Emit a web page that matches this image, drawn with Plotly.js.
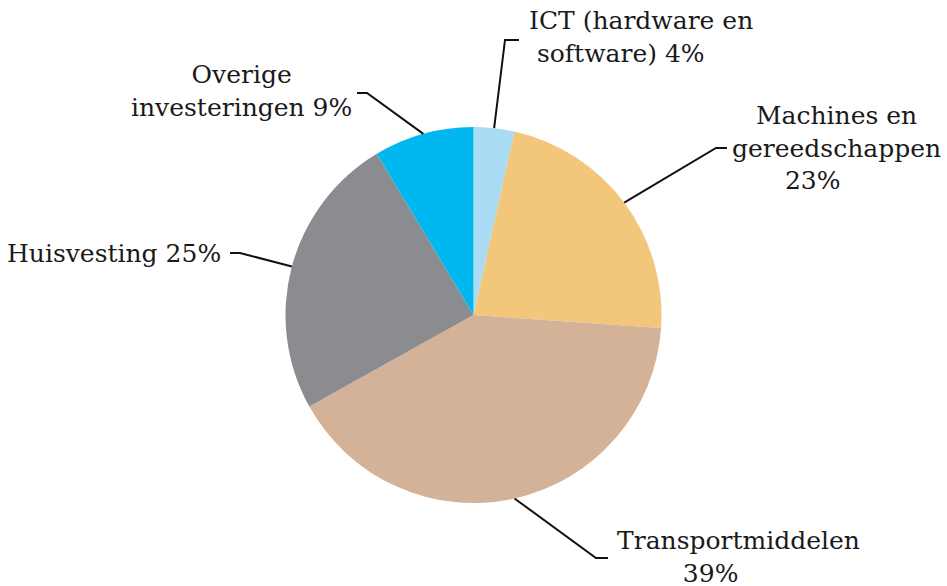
<!DOCTYPE html>
<html>
<head>
<meta charset="utf-8">
<script src="https://cdn.plot.ly/plotly-3.0.1.min.js"></script>
<style>html,body{margin:0;padding:0;background:#fff;}#chart{width:947px;height:586px;}</style>
</head>
<body>
<div id="chart"></div>
<script>
// Data: slice shares as drawn, and the percentages printed in the labels
var categories = ['ICT (hardware en software)', 'Machines en gereedschappen', 'Transportmiddelen', 'Huisvesting', 'Overige investeringen'];
var values = [3.5, 22.6, 40.8, 24.5, 8.6];
var labelPercents = [4, 23, 39, 25, 9];
var colors = ['#a9dcf4', '#f2c77c', '#d3b297', '#8b8c90', '#00b7ef'];
var nb = '\u00a0';
var displayLabels = [
  'ICT (hardware en<br>' + nb + 'software) ' + labelPercents[0] + '%',
  'Machines en<br>gereedschappen<br>' + labelPercents[1] + '%' + nb.repeat(6),
  'Transportmiddelen<br>' + labelPercents[2] + '%' + nb.repeat(7),
  'Huisvesting ' + labelPercents[3] + '%',
  'Overige<br>investeringen ' + labelPercents[4] + '%'
];

var W = 947, H = 586;
var cx = 473.5, cy = 315, R = 188;
function px(x){ return x / W; }
function py(y){ return 1 - y / H; }

// label layout (pixel positions of elbow, end of horizontal tick, and text anchor)
var labelLayout = [
  {elbow:[505,40], end:[519,40], tx:527, ty:37, xa:'left', align:'left'},
  {elbow:[716,148], end:[727,148], tx:836, ty:148, xa:'center', align:'center'},
  {elbow:[596,558], end:[608,558], tx:738, ty:557, xa:'center', align:'center'},
  {elbow:[240,253], end:[230,253], tx:223, ty:253, xa:'right', align:'right'},
  {elbow:[367,93], end:[357,93], tx:241, ty:91, xa:'center', align:'center'}
];

var total = values.reduce(function(a,b){return a+b;},0);
var shapes = [], annotations = [];
var cum = 0;
for (var i = 0; i < values.length; i++) {
  var mid = (cum + values[i]/2) / total * 2 * Math.PI;
  cum += values[i];
  var sx = cx + R * Math.sin(mid), sy = cy - R * Math.cos(mid);
  var L = labelLayout[i];
  shapes.push({
    type:'path', xref:'paper', yref:'paper',
    path:'M '+px(sx)+','+py(sy)+' L '+px(L.elbow[0])+','+py(L.elbow[1])+' L '+px(L.end[0])+','+py(L.end[1]),
    line:{color:'#111', width:2}
  });
  annotations.push({
    xref:'paper', yref:'paper', x:px(L.tx), y:py(L.ty), xanchor:L.xa, yanchor:'middle',
    align:L.align, showarrow:false, text:displayLabels[i],
    font:{family:'DejaVu Serif', size:25, color:'#1a1a1a'}
  });
}

var trace = {
  type:'pie', labels:categories, values:values, sort:false, direction:'clockwise', rotation:0,
  marker:{colors:colors, line:{width:0}}, textinfo:'none', hoverinfo:'label+percent',
  domain:{x:[0,1], y:[py(cy+R), py(cy-R)]}
};

Plotly.newPlot('chart', [trace], {
  width:W, height:H, margin:{l:0,r:0,t:0,b:0}, showlegend:false,
  paper_bgcolor:'#fff', plot_bgcolor:'#fff', shapes:shapes, annotations:annotations
}, {displayModeBar:false, staticPlot:true});
</script>
</body>
</html>
